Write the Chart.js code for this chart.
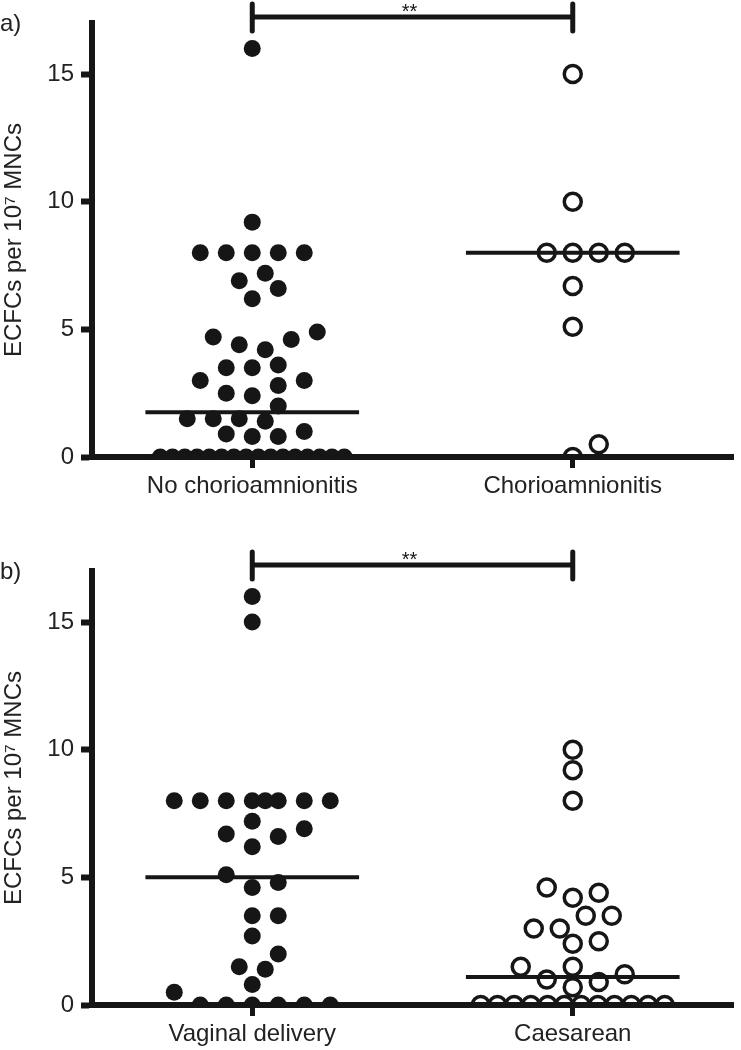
<!DOCTYPE html>
<html>
<head>
<meta charset="utf-8">
<script src="https://cdn.jsdelivr.net/npm/chart.js@4.4.1/dist/chart.umd.min.js"></script>
<style>
  html, body { margin: 0; padding: 0; background: #fff; overflow: hidden; }
  body { width: 741px; height: 1050px; position: relative; }
  canvas { position: absolute; left: 0; }
  #panelA { top: 0; }
  #panelB { top: 548px; }
</style>
</head>
<body>
<!-- a few px wider than the page: chart.js keeps a small gap on the right -->
<canvas id="panelA" width="745" height="503"></canvas>
<canvas id="panelB" width="745" height="503"></canvas>
<script>
// values (ECFCs per 10^7 MNCs)
const yTicks = [0, 5, 10, 15];
const yAxisTitle = 'ECFCs per 10⁷ MNCs';
const significance = '**';

const labelsA = ['No chorioamnionitis', 'Chorioamnionitis'];
const noChorio = [16, 9.2, 8, 8, 8, 8, 8, 7.2, 6.9, 6.6, 6.2, 4.9, 4.7, 4.6, 4.4, 4.2,
  3.6, 3.5, 3.5, 3.0, 3.0, 2.8, 2.5, 2.4, 2.0, 1.5, 1.5, 1.5, 1.4, 1.0, 0.9, 0.8, 0.8,
  0, 0, 0, 0, 0, 0, 0, 0, 0, 0, 0, 0, 0, 0, 0, 0];
const chorio = [15, 10, 8, 8, 8, 8, 6.7, 5.1, 0.5, 0];
const mediansA = [1.75, 8];

const labelsB = ['Vaginal delivery', 'Caesarean'];
const vaginal = [16, 15, 8, 8, 8, 8, 8, 8, 8, 8, 7.2, 6.9, 6.7, 6.6, 6.2, 5.1, 4.8, 4.6,
  3.5, 3.5, 2.7, 2.0, 1.5, 1.4, 0.8, 0.5, 0, 0, 0, 0, 0, 0];
const caesarean = [10, 9.2, 8, 4.6, 4.4, 4.2, 3.5, 3.5, 3.0, 3.0, 2.5, 2.4, 1.5, 1.5, 1.2,
  1.0, 0.9, 0.7, 0, 0, 0, 0, 0, 0, 0, 0, 0, 0, 0, 0];
const mediansB = [5, 1.1];

const INK = '#161616';
const TEXT = '#222';

Chart.defaults.font.family = '"Liberation Sans", Arial, sans-serif';
Chart.defaults.font.size = 24;
Chart.defaults.color = TEXT;

// dot plot spreading (pixels)
const STEP = 13, MIN_DIST = 19, SLOT = 26, HALF = 92;

function swarm(values, center, xs, ys) {
  const cx = xs.getPixelForValue(center);
  const counts = new Map();
  values.forEach(v => counts.set(v, (counts.get(v) || 0) + 1));
  const placed = [];
  // ties that do not fit side by side get squeezed across the column
  counts.forEach((n, v) => {
    if ((n - 1) * SLOT <= 2 * HALF) return;
    const gap = 2 * HALF / (n - 1);
    const py = ys.getPixelForValue(v);
    for (let i = 0; i < n; i++) placed.push({ px: cx - HALF + i * gap, py, v });
  });
  const rest = values.filter(v => (counts.get(v) - 1) * SLOT <= 2 * HALF).sort((a, b) => a - b);
  rest.forEach(v => {
    const py = ys.getPixelForValue(v);
    let best = null, bestGap = -1;
    for (let k = 0; k <= 14; k++) {
      const px = cx + (k % 2 ? 1 : -1) * Math.ceil(k / 2) * STEP;
      let gap = Infinity;
      placed.forEach(p => { gap = Math.min(gap, Math.hypot(p.px - px, p.py - py)); });
      if (gap >= MIN_DIST) { best = px; break; }
      if (gap > bestGap) { bestGap = gap; best = px; }
    }
    placed.push({ px: best, py, v });
  });
  return placed.map(p => ({ x: xs.getValueForPixel(p.px), y: p.v }));
}

const bracket = {
  id: 'bracket',
  afterDraw(chart, args, opts) {
    const { ctx, chartArea, scales } = chart;
    const x0 = scales.x.getPixelForValue(0);
    const x1 = scales.x.getPixelForValue(1);
    const yb = chartArea.top - 6;
    ctx.save();
    ctx.strokeStyle = INK;
    ctx.lineWidth = 5;
    ctx.beginPath();
    ctx.moveTo(x0, yb); ctx.lineTo(x1, yb);
    ctx.stroke();
    ctx.lineCap = 'round';
    ctx.beginPath();
    ctx.moveTo(x0, yb - 13); ctx.lineTo(x0, yb + 14);
    ctx.moveTo(x1, yb - 13); ctx.lineTo(x1, yb + 14);
    ctx.stroke();
    ctx.fillStyle = INK;
    ctx.textAlign = 'center';
    ctx.textBaseline = 'alphabetic';
    ctx.font = '20px "Liberation Sans", Arial, sans-serif';
    ctx.fillText(significance, (x0 + x1) / 2 - 3, yb + 1);
    ctx.fillStyle = TEXT;
    ctx.textAlign = 'left';
    ctx.font = '24px "Liberation Sans", Arial, sans-serif';
    ctx.fillText(opts.letter, 0, 31);
    ctx.restore();
  }
};

function makePanel(id, letter, labels, groupA, groupB, medians) {
  const chart = new Chart(document.getElementById(id), {
    type: 'scatter',
    data: {
      datasets: [
        {
          data: groupA.map(v => ({ x: 0, y: v })),
          pointRadius: 8.5, pointHoverRadius: 8.5,
          backgroundColor: INK, borderWidth: 0
        },
        {
          data: groupB.map(v => ({ x: 1, y: v })),
          pointRadius: 8.5, pointHoverRadius: 8.5,
          backgroundColor: 'rgba(0,0,0,0)', borderColor: INK, borderWidth: 3.5
        },
        ...medians.map((m, i) => ({
          type: 'line',
          data: [{ x: i - 1 / 3, y: m }, { x: i + 1 / 3, y: m }],
          borderColor: INK, borderWidth: 4, pointRadius: 0
        }))
      ]
    },
    options: {
      responsive: false,
      animation: false,
      layout: { padding: { top: 23, right: 1, left: 0, bottom: 0 } },
      plugins: {
        legend: { display: false },
        tooltip: { enabled: false },
        bracket: { letter: letter }
      },
      scales: {
        x: {
          type: 'linear',
          min: -0.5, max: 1.5,
          afterBuildTicks: s => { s.ticks = labels.map((_, i) => ({ value: i })); },
          afterFit: s => { s.height = 46; s.paddingLeft = 0; s.paddingRight = 0; },
          ticks: { callback: v => labels[v], padding: 4, color: TEXT },
          grid: { drawOnChartArea: false, tickLength: 11, tickWidth: 5, tickColor: INK },
          border: { display: true, width: 6, color: INK }
        },
        y: {
          min: 0, max: 17,
          afterBuildTicks: s => { s.ticks = yTicks.map(v => ({ value: v })); },
          afterFit: s => { s.width = 92; s.paddingTop = 0; s.paddingBottom = 0; },
          ticks: { padding: 7, color: TEXT },
          grid: { drawOnChartArea: false, tickLength: 11, tickWidth: 6, tickColor: INK },
          border: { display: true, width: 6, color: INK },
          title: { display: true, text: yAxisTitle, color: TEXT, padding: 0 }
        }
      }
    },
    plugins: [bracket]
  });
  chart.data.datasets[0].data = swarm(groupA, 0, chart.scales.x, chart.scales.y);
  chart.data.datasets[1].data = swarm(groupB, 1, chart.scales.x, chart.scales.y);
  chart.update('none');
  return chart;
}

makePanel('panelA', 'a)', labelsA, noChorio, chorio, mediansA);
makePanel('panelB', 'b)', labelsB, vaginal, caesarean, mediansB);
</script>
</body>
</html>
